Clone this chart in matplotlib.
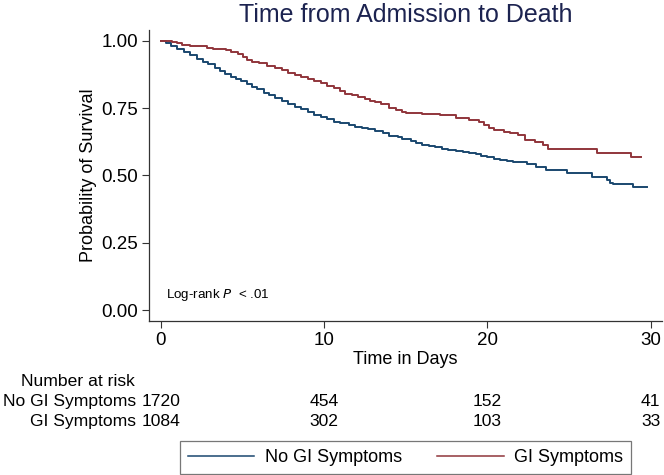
import matplotlib
matplotlib.use("Agg")
import matplotlib.pyplot as plt
import matplotlib.transforms as mtransforms
from matplotlib.lines import Line2D

plt.rcParams['font.family'] = ['Liberation Sans', 'DejaVu Sans']

# Kaplan-Meier estimates (days, survival)
no_gi_t = [0, 0.3, 0.6, 1.0, 1.4, 1.8, 2.2, 2.6, 2.9, 3.3, 3.6, 3.9, 4.3, 4.6,
           4.9, 5.3, 5.6, 5.9, 6.3, 6.6, 7.0, 7.4, 7.8, 8.2, 8.6, 9.0, 9.4,
           9.8, 10.2, 10.6, 11.0, 11.5, 11.9, 12.3, 12.7, 13.1, 13.6, 14.0,
           14.5, 14.8, 15.3, 15.6, 16.0, 16.4, 16.8, 17.2, 17.6, 18.1, 18.5,
           18.9, 19.3, 19.6, 20.0, 20.4, 20.8, 21.2, 21.6, 22.0, 22.4, 23.0,
           23.6, 24.9, 26.4, 26.7, 27.3, 27.5, 27.7, 28.9, 29.8]
no_gi_s = [1.000, 0.990, 0.982, 0.971, 0.958, 0.946, 0.934, 0.922, 0.912,
           0.898, 0.887, 0.876, 0.866, 0.858, 0.851, 0.840, 0.829, 0.820,
           0.808, 0.798, 0.787, 0.777, 0.767, 0.756, 0.746, 0.736, 0.725,
           0.716, 0.708, 0.700, 0.694, 0.688, 0.681, 0.676, 0.671, 0.665,
           0.656, 0.648, 0.642, 0.635, 0.628, 0.622, 0.615, 0.610, 0.605,
           0.600, 0.595, 0.590, 0.586, 0.582, 0.578, 0.573, 0.568, 0.563,
           0.559, 0.555, 0.551, 0.549, 0.542, 0.533, 0.520, 0.510, 0.496,
           0.493, 0.483, 0.474, 0.467, 0.456, 0.456]

gi_t = [0, 0.7, 1.0, 1.3, 1.8, 2.4, 2.8, 3.2, 3.6, 4.0, 4.3, 4.7, 5.0, 5.3,
        5.6, 6.0, 6.5, 7.0, 7.4, 7.8, 8.2, 8.6, 9.0, 9.4, 9.8, 10.2, 10.6,
        11.0, 11.3, 11.7, 12.1, 12.5, 12.8, 13.1, 13.5, 14.0, 14.4, 14.8,
        15.0, 16.0, 17.1, 18.1, 18.9, 19.5, 19.8, 20.1, 20.4, 21.0, 21.4,
        21.9, 22.3, 22.9, 23.4, 23.7, 26.7, 28.8, 29.4]
gi_s = [1.000, 0.994, 0.990, 0.986, 0.982, 0.979, 0.975, 0.971, 0.968, 0.964,
        0.958, 0.950, 0.940, 0.930, 0.923, 0.917, 0.905, 0.898, 0.890, 0.882,
        0.874, 0.866, 0.858, 0.849, 0.842, 0.833, 0.824, 0.812, 0.803, 0.798,
        0.790, 0.783, 0.778, 0.774, 0.765, 0.752, 0.742, 0.737, 0.731, 0.728,
        0.725, 0.712, 0.706, 0.700, 0.688, 0.675, 0.669, 0.663, 0.656, 0.650,
        0.632, 0.623, 0.613, 0.597, 0.585, 0.570, 0.570]

risk_times = [0, 10, 20, 30]
risk_no_gi = [1720, 454, 152, 41]
risk_gi = [1084, 302, 103, 33]

navy = '#1a476f'
maroon = '#90353b'

fig = plt.figure(figsize=(6.64, 4.75), dpi=100)
ax = fig.add_axes([149/664, 1 - 321/475, 513/664, 291/475])

ax.step(no_gi_t, no_gi_s, where='post', color=navy, lw=1.4)
ax.step(gi_t, gi_s, where='post', color=maroon, lw=1.4)

ax.set_xlim(-0.73, 30.7)
ax.set_ylim(-0.04, 1.04)
ax.set_xticks([0, 10, 20, 30])
ax.set_yticks([0, 0.25, 0.5, 0.75, 1.0])
ax.set_yticklabels(['0.00', '0.25', '0.50', '0.75', '1.00'])
ax.tick_params(direction='out', length=5, width=0.8, labelsize=13.5,
               color='#333333', pad=3)
for s in ['top', 'right']:
    ax.spines[s].set_visible(False)
for s in ['left', 'bottom']:
    ax.spines[s].set_linewidth(0.9)
    ax.spines[s].set_color('#333333')

ax.set_title('Time from Admission to Death', fontsize=18, color='#1c2350', pad=6)
ax.set_ylabel('Probability of Survival', fontsize=13, labelpad=3)
ax.set_xlabel('Time in Days', fontsize=13, labelpad=1)

ax.text(0.3, 0.045, 'Log-rank $\\it{P}$  < .01', fontsize=9.6)

# number at risk table
trans = mtransforms.blended_transform_factory(ax.transData, fig.transFigure)
fs = 12.6
fig.text(135/664, 1 - 386/475, 'Number at risk', ha='right', va='baseline', fontsize=fs)
fig.text(136/664, 1 - 406/475, 'No GI Symptoms', ha='right', va='baseline', fontsize=fs)
fig.text(136/664, 1 - 426/475, 'GI Symptoms', ha='right', va='baseline', fontsize=fs)
for t, a, b in zip(risk_times, risk_no_gi, risk_gi):
    fig.text(t, 1 - 406/475, str(a), ha='center', va='baseline', fontsize=fs, transform=trans)
    fig.text(t, 1 - 426/475, str(b), ha='center', va='baseline', fontsize=fs, transform=trans)

handles = [Line2D([], [], color=navy, lw=1.1), Line2D([], [], color=maroon, lw=1.1)]
leg = fig.legend(handles, ['No GI Symptoms', 'GI Symptoms'], ncol=2,
                 loc='center', bbox_to_anchor=(405.5/664, 1 - 457.5/475),
                 fontsize=13, handlelength=3.7, handletextpad=0.6,
                 columnspacing=1.9, borderpad=0.45, frameon=True,
                 fancybox=False, borderaxespad=0)
leg.get_frame().set_edgecolor('#555555')
leg.get_frame().set_linewidth(0.9)

fig.savefig('out.png', dpi=100)
